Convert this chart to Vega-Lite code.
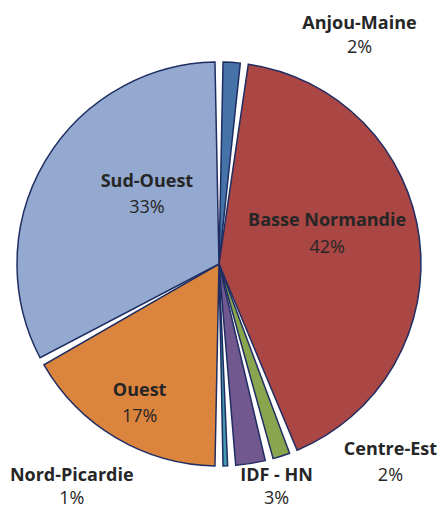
{
  "$schema": "https://vega.github.io/schema/vega-lite/v6.json",
  "width": 439,
  "height": 509,
  "autosize": {"type": "fit", "contains": "padding"},
  "padding": {"top": 19, "bottom": 0, "left": 0, "right": 0},
  "background": "white",
  "view": {"stroke": null},
  "data": {
    "values": [
      {"region": "Anjou-Maine", "value": 2, "pct": "2%"},
      {"region": "Basse Normandie", "value": 42, "pct": "42%"},
      {"region": "Centre-Est", "value": 2, "pct": "2%"},
      {"region": "IDF - HN", "value": 3, "pct": "3%"},
      {"region": "Nord-Picardie", "value": 1, "pct": "1%"},
      {"region": "Ouest", "value": 17, "pct": "17%"},
      {"region": "Sud-Ouest", "value": 33, "pct": "33%"}
    ]
  },
  "encoding": {
    "theta": {"field": "value", "type": "quantitative", "stack": true},
    "order": {"field": "region", "type": "nominal", "sort": "ascending"}
  },
  "layer": [
    {
      "mark": {"type": "arc", "radius": 202, "padAngle": 0.04, "stroke": "#1F2D62", "strokeWidth": 1.5, "strokeJoin": "miter"},
      "encoding": {
        "color": {
          "field": "region", "type": "nominal", "legend": null,
          "scale": {
            "domain": ["Anjou-Maine", "Basse Normandie", "Centre-Est", "IDF - HN", "Nord-Picardie", "Ouest", "Sud-Ouest"],
            "range": ["#4572A7", "#AA4643", "#89A54E", "#71588F", "#4198AF", "#DB843D", "#93A9CF"]
          }
        }
      }
    },
    {"mark": {"type": "text", "radius": 100, "dx": 14, "dy": -31, "font": "Open Sans", "fontSize": 18, "fontWeight": "bold", "fill": "#262626"},
     "encoding": {"text": {"condition": {"test": "datum.region === 'Sud-Ouest'", "field": "region"}, "value": ""}}},
    {"mark": {"type": "text", "radius": 100, "dx": 14, "dy": -5, "font": "Open Sans", "fontSize": 18, "fill": "#262626"},
     "encoding": {"text": {"condition": {"test": "datum.region === 'Sud-Ouest'", "field": "pct"}, "value": ""}}},
    {"mark": {"type": "text", "radius": 110, "dx": -1, "dy": -29, "font": "Open Sans", "fontSize": 18, "fontWeight": "bold", "fill": "#262626"},
     "encoding": {"text": {"condition": {"test": "datum.region === 'Basse Normandie'", "field": "region"}, "value": ""}}},
    {"mark": {"type": "text", "radius": 110, "dx": -1, "dy": -2, "font": "Open Sans", "fontSize": 18, "fill": "#262626"},
     "encoding": {"text": {"condition": {"test": "datum.region === 'Basse Normandie'", "field": "pct"}, "value": ""}}},
    {"mark": {"type": "text", "radius": 150, "dx": -3, "dy": -2, "font": "Open Sans", "fontSize": 18, "fontWeight": "bold", "fill": "#262626"},
     "encoding": {"text": {"condition": {"test": "datum.region === 'Ouest'", "field": "region"}, "value": ""}}},
    {"mark": {"type": "text", "radius": 150, "dx": -3, "dy": 24, "font": "Open Sans", "fontSize": 18, "fill": "#262626"},
     "encoding": {"text": {"condition": {"test": "datum.region === 'Ouest'", "field": "pct"}, "value": ""}}},
    {"mark": {"type": "text", "radius": 215, "dx": 127, "dy": -25, "font": "Open Sans", "fontSize": 18, "fontWeight": "bold", "fill": "#262626"},
     "encoding": {"text": {"condition": {"test": "datum.region === 'Anjou-Maine'", "field": "region"}, "value": ""}}},
    {"mark": {"type": "text", "radius": 215, "dx": 127, "dy": -1, "font": "Open Sans", "fontSize": 18, "fill": "#262626"},
     "encoding": {"text": {"condition": {"test": "datum.region === 'Anjou-Maine'", "field": "pct"}, "value": ""}}},
    {"mark": {"type": "text", "radius": 215, "dx": 105, "dy": -18, "font": "Open Sans", "fontSize": 18, "fontWeight": "bold", "fill": "#262626"},
     "encoding": {"text": {"condition": {"test": "datum.region === 'Centre-Est'", "field": "region"}, "value": ""}}},
    {"mark": {"type": "text", "radius": 215, "dx": 105, "dy": 8, "font": "Open Sans", "fontSize": 18, "fill": "#262626"},
     "encoding": {"text": {"condition": {"test": "datum.region === 'Centre-Est'", "field": "pct"}, "value": ""}}},
    {"mark": {"type": "text", "radius": 215, "dx": 24, "dy": 0, "font": "Open Sans", "fontSize": 18, "fontWeight": "bold", "fill": "#262626"},
     "encoding": {"text": {"condition": {"test": "datum.region === 'IDF - HN'", "field": "region"}, "value": ""}}},
    {"mark": {"type": "text", "radius": 215, "dx": 24, "dy": 23, "font": "Open Sans", "fontSize": 18, "fill": "#262626"},
     "encoding": {"text": {"condition": {"test": "datum.region === 'IDF - HN'", "field": "pct"}, "value": ""}}},
    {"mark": {"type": "text", "radius": 215, "dx": -154, "dy": -3, "font": "Open Sans", "fontSize": 18, "fontWeight": "bold", "fill": "#262626"},
     "encoding": {"text": {"condition": {"test": "datum.region === 'Nord-Picardie'", "field": "region"}, "value": ""}}},
    {"mark": {"type": "text", "radius": 215, "dx": -154, "dy": 20, "font": "Open Sans", "fontSize": 18, "fill": "#262626"},
     "encoding": {"text": {"condition": {"test": "datum.region === 'Nord-Picardie'", "field": "pct"}, "value": ""}}}
  ]
}
